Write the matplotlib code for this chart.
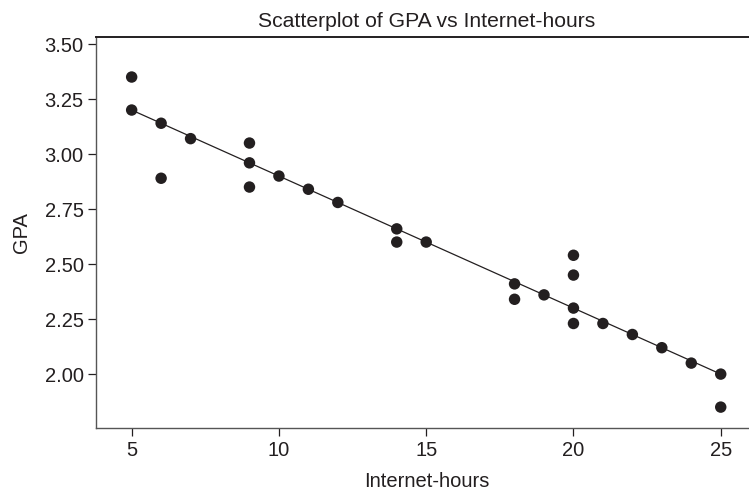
import matplotlib
matplotlib.use("Agg")
import matplotlib.pyplot as plt

plt.rcParams['font.family'] = ['Liberation Sans', 'DejaVu Sans']

# data
hours = [5, 5, 6, 6, 7, 9, 9, 9, 10, 11, 12, 14, 14, 15,
         18, 18, 19, 20, 20, 20, 20, 21, 22, 23, 24, 25, 25]
gpa = [3.35, 3.20, 3.14, 2.89, 3.07, 3.05, 2.96, 2.85, 2.90, 2.84, 2.78, 2.66, 2.60, 2.60,
       2.41, 2.34, 2.36, 2.54, 2.45, 2.30, 2.23, 2.23, 2.18, 2.12, 2.05, 2.00, 1.85]
fit_x = [5, 25]
fit_y = [3.20, 2.00]

ink = '#231f20'
fs = 14.5

fig = plt.figure(figsize=(7.49, 4.97), dpi=100)
ax = fig.add_axes([0.1282, 0.1388, 0.884, 0.7868])

ax.plot(fit_x, fit_y, color=ink, lw=0.9, zorder=2)
ax.scatter(hours, gpa, s=68, color=ink, edgecolors='none', zorder=3)

ax.set_xlim(3.79, 26.27)
ax.set_ylim(1.755, 3.532)
ax.set_xticks([5, 10, 15, 20, 25])
ax.set_yticks([2.00, 2.25, 2.50, 2.75, 3.00, 3.25, 3.50])
ax.set_yticklabels(['2.00', '2.25', '2.50', '2.75', '3.00', '3.25', '3.50'])

ax.spines['right'].set_visible(False)
for s in ['left', 'bottom', 'top']:
    ax.spines[s].set_color('#555555')
    ax.spines[s].set_linewidth(1.0)
ax.spines['top'].set_color(ink)
ax.spines['top'].set_linewidth(1.4)

ax.tick_params(direction='out', length=5.5, width=0.9, color=ink,
               labelsize=fs, labelcolor=ink, pad=3.5)

ax.set_title('Scatterplot of GPA vs Internet-hours', fontsize=15.2, color=ink, pad=7)
ax.set_xlabel('Internet-hours', fontsize=fs, color=ink, labelpad=9)
ax.set_ylabel('GPA', fontsize=fs, color=ink, labelpad=10)

fig.savefig('out.png', dpi=100)
